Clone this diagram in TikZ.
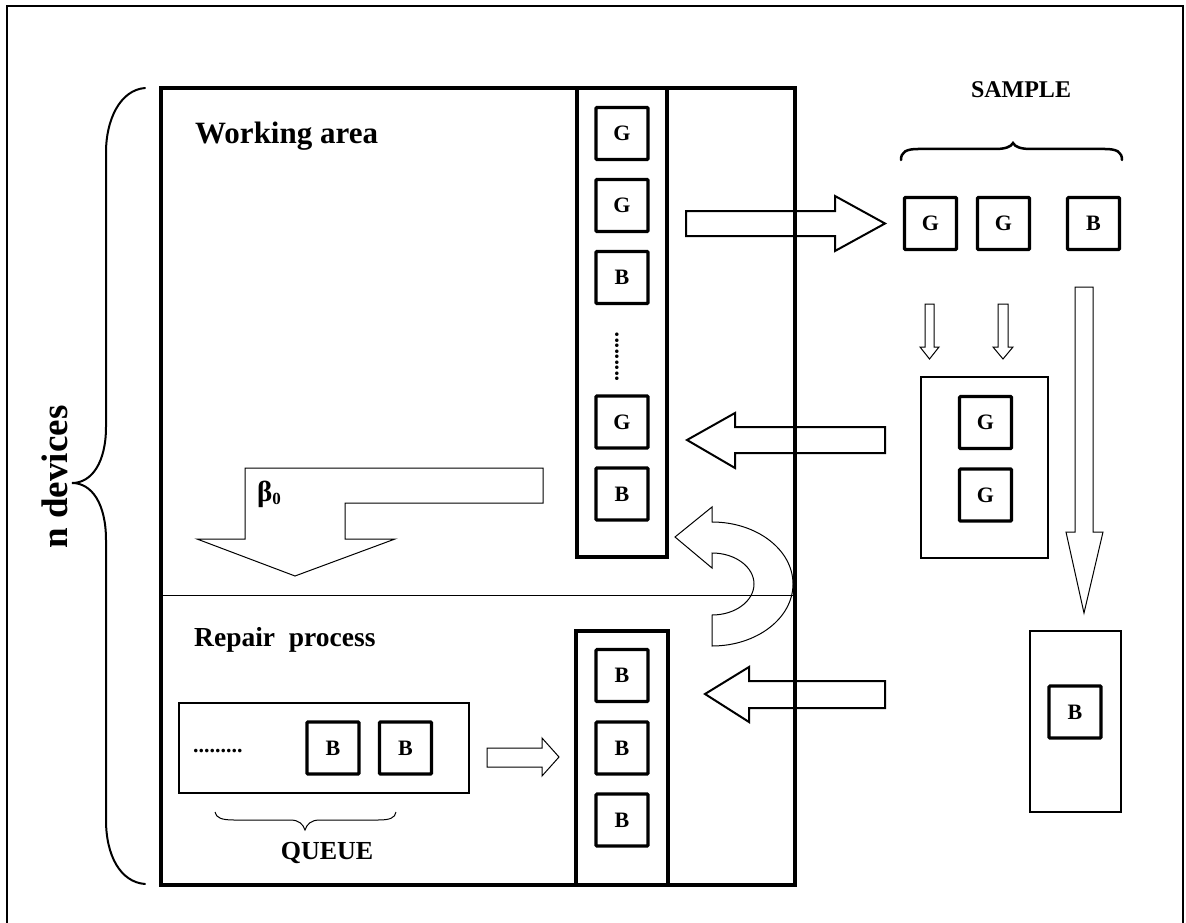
\documentclass[tikz,border=0pt]{standalone}
\usepackage{fontspec}
\setmainfont{Liberation Serif}
\begin{document}
\begin{tikzpicture}[x=1pt,y=-1pt,
  dev/.style={draw, line width=3.2pt, minimum size=52pt, inner sep=0pt, rounded corners=1pt, font=\bfseries\fontsize{22}{22}\selectfont},
  frame/.style={line width=4pt},
  col/.style={line width=3.6pt},
  cont/.style={line width=1.2pt},
  barrow/.style={line width=2pt, line join=miter},
  tarrow/.style={line width=1pt, line join=miter},
  bracestyle/.style={line width=2pt, line cap=round},
  lbl/.style={font=\bfseries, inner sep=0pt}]
\useasboundingbox (0,0) rectangle (1186,923);
% outer frame (bottom outside picture)
\draw[line width=2.5pt] (7,925) -- (7,6) -- (1183,6) -- (1183,925);
% main box
\draw[frame] (161,88) rectangle (795,885);
\draw[line width=1pt] (161,595) -- (795,595);
% columns
\draw[col] (577,88) rectangle (667,557);
\draw[col] (576,631) rectangle (668,885);
% devices in upper column
\node[dev] (u1) at (622,133.5) {G};
\node[dev] (u2) at (622,205.5) {G};
\node[dev] (u3) at (622,277.5) {B};
\node[lbl, rotate=90, font=\bfseries\fontsize{22}{22}\selectfont] (udots) at (617,357) {.........};
\node[dev] (u4) at (622,422) {G};
\node[dev] (u5) at (622,494) {B};
% lower column
\node[dev] (l1) at (622,675.5) {B};
\node[dev] (l2) at (622,748) {B};
\node[dev] (l3) at (622,820) {B};
% queue
\draw[cont] (179,703) rectangle (469,793);
\node[lbl, font=\bfseries\fontsize{22}{22}\selectfont, anchor=base west] (qdots) at (193,752) {.........};
\node[dev] (q1) at (333,748) {B};
\node[dev] (q2) at (405.5,748) {B};
\draw[line width=1pt] (215,812) .. controls (216,818) and (222,820) .. (234,820) -- (290,820) .. controls (299,820) and (303,824) .. (305,830) .. controls (307,824) and (311,820) .. (320,820) -- (378,820) .. controls (390,820) and (395,818) .. (396,812);
\node[lbl, font=\bfseries\fontsize{26}{26}\selectfont] (queue) at (327,853) {QUEUE};
% texts
\node[lbl, font=\bfseries\fontsize{31}{31}\selectfont, anchor=base west] (work) at (195,143) {Working area};
\node[lbl, font=\bfseries\fontsize{27.5}{27.5}\selectfont, anchor=base west] (rep) at (194,646) {Repair~~process};
\node[lbl, font=\bfseries\fontsize{37}{37}\selectfont, rotate=90] (ndev) at (55,477) {n devices};
% n devices brace
\draw[bracestyle] (145,88) .. controls (120,90) and (106,120) .. (106,152) -- (106,427) .. controls (106,462) and (92,483) .. (72,483) .. controls (92,483) and (106,504) .. (106,540) -- (106,820) .. controls (106,855) and (120,882) .. (145,884);
% beta arrow
\draw[tarrow] (245,468) -- (543,468) -- (543,503) -- (345,503) -- (345,539) -- (395,539) -- (295,576) -- (197,539) -- (245,539) -- cycle;
\node[lbl, font=\bfseries\fontsize{29}{29}\selectfont, anchor=base west] (beta) at (257,501) {β\raisebox{-0.12em}{\fontsize{17}{17}\selectfont 0}};
% queue arrow
\draw[tarrow] (487,748) -- (542,748) -- (542,738) -- (559,757) -- (542,776) -- (542,767) -- (487,767) -- cycle;
% curved arrow
\draw[tarrow] (712,522) arc[start angle=-90, end angle=90, x radius=81, y radius=62]
  -- (712,615) arc[start angle=90, end angle=-90, x radius=42, y radius=31]
  -- (712,568) -- (675,537) -- (712,507) -- cycle;
% big horizontal arrows
\draw[barrow] (686,211) -- (835,211) -- (835,196) -- (885,223.5) -- (835,251) -- (835,236) -- (686,236) -- cycle;
\draw[barrow] (885,427) -- (735,427) -- (735,413) -- (687,440) -- (735,468) -- (735,453) -- (885,453) -- cycle;
\draw[barrow] (885,681) -- (749,681) -- (749,667) -- (705,694) -- (749,722) -- (749,708) -- (885,708) -- cycle;
% sample
\node[lbl, font=\bfseries\fontsize{24}{24}\selectfont] (sample) at (1021,90) {SAMPLE};
\draw[line width=2.5pt, line cap=round] (901,160) .. controls (901,152) and (906,149) .. (918,149) -- (995,149) .. controls (1005,149) and (1011,147) .. (1013,143) .. controls (1015,147) and (1021,149) .. (1031,149) -- (1105,149) .. controls (1117,149) and (1122,152) .. (1122,160);
\node[dev] (s1) at (930.5,223.5) {G};
\node[dev] (s2) at (1003.5,223.5) {G};
\node[dev] (s3) at (1093.5,223.5) {B};
% small down arrows
\draw[tarrow] (925,304) -- (934,304) -- (934,347) -- (939,347) -- (929.5,359) -- (920,347) -- (925,347) -- cycle;
\draw[tarrow] (998,304) -- (1008,304) -- (1008,347) -- (1013,347) -- (1003,359) -- (993,347) -- (998,347) -- cycle;
% G container
\draw[cont] (921,377) rectangle (1048,558);
\node[dev] (g1) at (985.5,422.5) {G};
\node[dev] (g2) at (985.5,495) {G};
% long arrow
\draw[tarrow] (1075,287) -- (1093,287) -- (1093,532) -- (1103,532) -- (1084,613) -- (1066,532) -- (1075,532) -- cycle;
% B container
\draw[cont] (1030,631) rectangle (1121,812);
\node[dev] (b1) at (1075,712) {B};
\end{tikzpicture}
\end{document}
